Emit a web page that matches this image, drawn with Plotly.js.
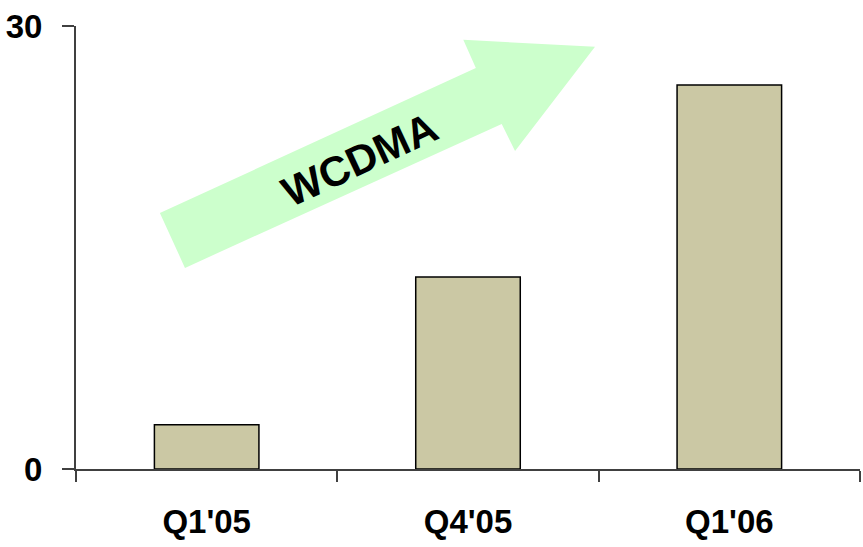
<!DOCTYPE html>
<html>
<head>
<meta charset="utf-8">
<script src="https://cdn.plot.ly/plotly-3.0.1.min.js"></script>
<style>html,body{margin:0;padding:0;background:#fff;}#chart{width:863px;height:547px;}</style>
</head>
<body>
<div id="chart"></div>
<script>
const categories = ["Q1'05", "Q4'05", "Q1'06"];
const values = [3, 13, 26];
const yTickVals = [0, 30];
const yTickText = ["0", "30"];
const arrowLabel = "WCDMA";

const FONT = "Liberation Sans, Arial, sans-serif";

const trace = {
  type: 'bar',
  x: categories,
  y: values,
  width: 0.4,
  marker: {color: '#CBC8A4', line: {color: '#000000', width: 1.5}},
  hoverinfo: 'none'
};

// Decorative arrow (paper coordinates)
const arrowPath = 'M0.107,0.578 L0.510,0.905 L0.494,0.969 L0.662,0.953 L0.560,0.718 L0.543,0.779 L0.139,0.454 Z';

const layout = {
  width: 863, height: 547,
  margin: {l: 76, r: 3, t: 26, b: 78},
  paper_bgcolor: '#ffffff', plot_bgcolor: '#ffffff',
  showlegend: false,
  font: {family: FONT, color: '#000'},
  xaxis: {
    type: 'category',
    range: [-0.5, 2.5],
    showline: true, linecolor: '#404040', linewidth: 2,
    ticks: 'outside', tickson: 'boundaries', ticklen: 11, tickwidth: 2, tickcolor: '#404040',
    tickfont: {family: FONT, size: 33, color: '#000', weight: 'bold'},
    ticklabelstandoff: 22,
    showgrid: false, zeroline: false, fixedrange: true
  },
  yaxis: {
    range: [0, 30],
    tickmode: 'array', tickvals: yTickVals, ticktext: yTickText,
    showline: true, linecolor: '#404040', linewidth: 2,
    ticks: 'outside', ticklen: 12, tickwidth: 2, tickcolor: '#404040',
    tickfont: {family: FONT, size: 33, color: '#000', weight: 'bold'},
    ticklabelstandoff: 13,
    showgrid: false, zeroline: false, fixedrange: true
  },
  shapes: [{
    type: 'path', xref: 'paper', yref: 'paper',
    path: arrowPath,
    fillcolor: '#CCFFCC', line: {width: 0}, layer: 'above'
  }],
  annotations: [{
    xref: 'paper', yref: 'paper',
    x: 0.362, y: 0.698, xanchor: 'center', yanchor: 'middle',
    text: '<b>' + arrowLabel + '</b>',
    showarrow: false, textangle: -25,
    font: {family: FONT, size: 42, color: '#000'}
  }]
};

Plotly.newPlot('chart', [trace], layout, {staticPlot: true, displayModeBar: false});
</script>
</body>
</html>
